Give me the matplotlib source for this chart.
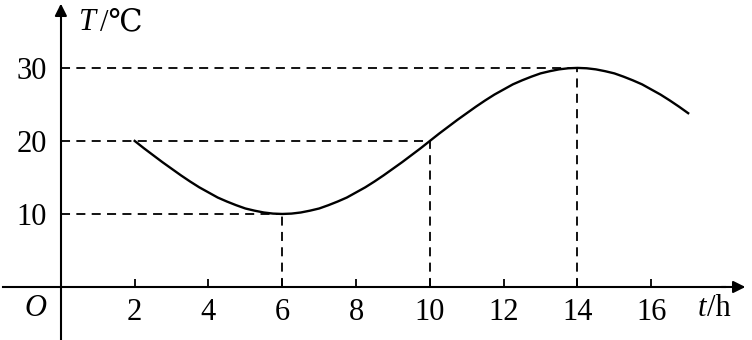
import matplotlib
matplotlib.use('Agg')
import matplotlib.pyplot as plt

plt.rcParams['font.family'] = ['Liberation Serif', 'DejaVu Serif']

# temperature curve (t in h, T in degC)
t_vals = [2, 2.25, 2.5, 2.75, 3, 3.25, 3.5, 3.75, 4, 4.25, 4.5, 4.75, 5, 5.25, 5.5, 5.75,
          6, 6.25, 6.5, 6.75, 7, 7.25, 7.5, 7.75, 8, 8.25, 8.5, 8.75, 9, 9.25, 9.5, 9.75,
          10, 10.25, 10.5, 10.75, 11, 11.25, 11.5, 11.75, 12, 12.25, 12.5, 12.75, 13, 13.25, 13.5, 13.75,
          14, 14.25, 14.5, 14.75, 15, 15.25, 15.5, 15.75, 16, 16.25, 16.5, 16.75, 17]
T_vals = [20.0, 19.0, 18.05, 17.1, 16.2, 15.3, 14.45, 13.65, 12.95, 12.25, 11.7, 11.2, 10.75, 10.45, 10.2, 10.05,
          10.0, 10.05, 10.2, 10.45, 10.75, 11.2, 11.7, 12.25, 12.95, 13.65, 14.45, 15.3, 16.2, 17.1, 18.05, 19.0,
          20.0, 21.0, 21.95, 22.9, 23.8, 24.7, 25.55, 26.35, 27.05, 27.75, 28.3, 28.8, 29.25, 29.55, 29.8, 29.95,
          30.0, 29.95, 29.8, 29.55, 29.25, 28.8, 28.3, 27.75, 27.05, 26.35, 25.55, 24.7, 23.8]

x_ticks = [2, 4, 6, 8, 10, 12, 14, 16]
y_ticks = [10, 20, 30]
# marked points (t, T) with guide lines
mark_t = [6, 10, 14]
mark_T = [10, 20, 30]

fig = plt.figure(figsize=(7.52, 3.4), dpi=100)
ax = fig.add_axes([0, 0, 1, 1])
ax.set_xlim(-1.65, 18.73)
ax.set_ylim(-7.26, 39.3)

for s in ['top', 'right']:
    ax.spines[s].set_visible(False)
for s in ['bottom', 'left']:
    ax.spines[s].set_position(('data', 0))
    ax.spines[s].set_linewidth(1.5)
ax.spines['bottom'].set_bounds(-1.57, 18.0)
ax.spines['left'].set_bounds(-7.26, 37.5)

# arrow heads
ax.annotate('', xy=(18.55, 0), xytext=(17.9, 0),
            arrowprops=dict(arrowstyle='-|>', color='black', lw=1.5, mutation_scale=18,
                            shrinkA=0, shrinkB=0))
ax.annotate('', xy=(0, 38.8), xytext=(0, 37.0),
            arrowprops=dict(arrowstyle='-|>', color='black', lw=1.5, mutation_scale=18,
                            shrinkA=0, shrinkB=0))

ax.set_xticks(x_ticks)
ax.set_yticks(y_ticks)
ax.tick_params(axis='x', direction='in', length=6, width=1.3, labelsize=22, pad=8)
ax.tick_params(axis='y', length=0, labelsize=22, pad=10)

# guide lines
for t, T in zip(mark_t, mark_T):
    ax.plot([0, t], [T, T], color='black', lw=1.3, ls=(0, (5, 3.5)))
    ax.plot([t, t], [0, T], color='black', lw=1.3, ls=(0, (5, 3.5)))

ax.plot(t_vals, T_vals, color='black', lw=1.7)

ax.text(-0.7, -3.0, 'O', fontsize=22, style='italic', ha='center', va='center')
ax.text(17.5, -3.0, 't', fontsize=22, style='italic', ha='right', va='center')
ax.text(17.5, -3.0, '/h', fontsize=22, ha='left', va='center')
ax.text(0.5, 36.2, 'T', fontsize=22, style='italic', ha='left', va='center')
ax.text(1.05, 36.2, '/℃', fontsize=22, ha='left', va='center')

fig.savefig('out.png', dpi=100)
